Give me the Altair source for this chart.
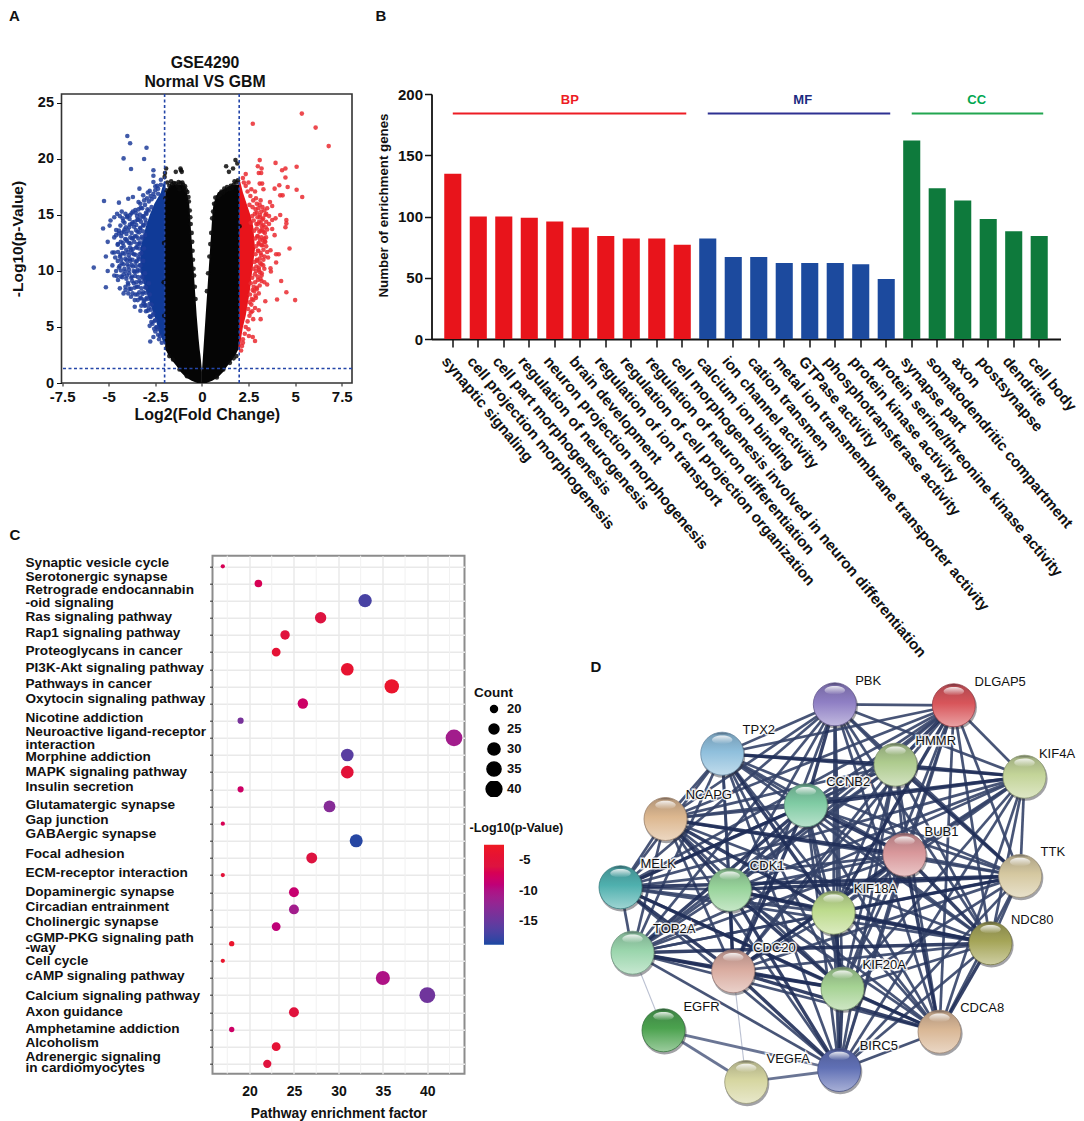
import itertools
import altair as alt
import pandas as pd

FONT = "Liberation Sans"

# ---------- Panel A: volcano ----------
blue_x = [-4.0,-3.85,-2.97,-4.2,-3.1,-3.8,-2.6,-2.6,-2.2,-2.6,-2.5,-2.35,-3.35,-2.8,-2.9,-3.15,-3.7,-3.95,-5.25,-4.45,-3.4,-3.3,-4.3,-4.1,-4.7,-4.9,-4.95,-5.3,-4.6,-5.05,-4.7,-4.8,-4.7,-5.15,-5.8,-5.05,-4.8,-5.15,-4.4,-4.2,-3.95,-4.1,-3.6,-3.3,-3.07,-2.8,-2.6,-2.77,-2.35,
 -4.55,-4.4,-4.25,-4.15,-4.0,-3.85,-3.7,-3.55,-3.4,-3.2,-3.05,-2.85,-2.7,-2.95,-3.1,-2.55,
 -4.6,-4.45,-4.3,-4.15,-4.05,-3.9,-3.75,-3.6,-3.45,-3.3,-3.15,-3.0,-2.85,
 -4.5,-4.35,-4.2,-4.05,-3.9,-3.75,-3.6,-3.45,-3.3,-3.15,-3.0,
 -4.65,-4.5,-4.4,-4.25,-4.1,-3.95,-3.8,-3.65,-3.5,-3.35,-3.2,-3.05,
 -4.6,-4.45,-4.3,-4.15,-4.0,-3.85,-3.7,-3.55,-3.4,-3.25,-3.1,
 -4.5,-4.7,-4.35,-4.2,-4.05,-3.9,-3.75,-3.6,-3.45,-3.3,-3.15,
 -4.1,-3.95,-3.8,-3.65,-3.5,-3.35,-3.2,-3.05,
 -3.8,-3.6,-3.45,-3.3,-3.15,-3.0,-2.85,
 -3.25,-3.1,-2.95,-2.8,-3.0,-2.85,-2.7,-2.75,-2.6,-2.5,-2.65,-2.45,-2.35,-2.5,-2.3,-2.15,-2.25,
 -2.5,-2.35,-2.6,-2.2,-2.4,-2.75,
 -2.7,-2.92,-3.28,-3.57, -2.97,-3.12,-3.33,-3.48,-3.77,-4.02, -3.03,-3.27,-3.44,-3.72,-3.88,-4.22,
 -3.12,-3.31,-3.52,-3.64,-3.86,-4.08,-4.37, -3.16,-3.36,-3.54,-3.77,-3.96,-4.19,-4.46, -3.22,-3.41,-3.51,-3.69,-3.84,-4.12,-4.33,
 -3.32,-3.46,-3.63,-3.82,-4.01,-4.24,-4.52, -3.36,-3.52,-3.71,-3.86,-4.06,-4.31, -3.34,-3.56,-3.74,-3.92,-4.14,-4.36,
 -3.37,-3.49,-3.72,-3.88,-4.04,-4.32,-4.51, -3.33,-3.54,-3.76,-3.93,-4.21,-4.41, -3.31,-3.48,-3.66,-3.91,-4.11,-4.34,
 -3.21,-3.42,-3.58,-3.79,-4.02,-4.26,-4.56, -3.11,-3.29,-3.52,-3.74,-3.97, -3.04,-3.24,-3.42,-3.61,-3.89, -3.01,-3.19,-3.36,-3.57,-3.72,
 -2.92,-3.08,-3.26,-3.44, -2.81,-3.02,-3.14, -2.74,-2.91, -2.62,-2.79, -2.53,-2.71, -2.41,-2.56]
blue_y = [22.05,21.4,21.0,20.05,20.0,19.1,19.0,18.5,18.15,17.95,17.55,17.35,17.35,17.15,17.0,16.75,16.6,16.45,16.25,16.1,16.15,16.0,15.3,15.1,14.8,14.5,14.05,13.8,13.65,12.6,13.0,11.65,11.65,11.3,10.3,10.0,10.5,8.55,8.45,8.0,8.0,8.3,6.8,6.45,6.9,5.1,4.1,3.7,4.3,
 15.1,14.9,14.7,14.3,14.9,15.0,15.3,15.2,15.5,15.6,15.9,16.2,16.4,16.5,16.3,16.6,
 13.2,13.6,13.4,13.7,13.3,13.9,14.2,14.4,14.6,14.7,14.9,15.2,15.4,
 12.4,12.6,12.2,12.8,12.5,12.9,13.1,13.5,13.8,14.1,14.3,
 11.2,11.7,11.3,11.6,11.1,11.7,11.9,11.5,12.1,12.4,12.9,13.2,
 10.0,10.3,10.7,10.2,10.6,10.9,10.4,10.8,11.2,11.6,12.0,
 9.2,9.6,9.5,9.7,9.3,9.8,9.5,9.9,10.1,10.5,10.9,
 8.6,8.8,8.4,8.9,8.6,9.1,9.4,9.8,
 7.7,7.4,7.9,7.6,8.1,8.5,8.9,
 6.9,7.3,7.6,7.9,6.4,6.7,7.0,5.9,6.2,5.6,5.3,5.0,4.8,4.6,3.9,3.6,4.2,
 17.2,16.9,16.9,17.7,17.6,16.7,
 15.7,15.5,15.65,15.45, 15.1,14.85,15.05,14.9,15.15,14.8, 14.6,14.4,14.55,14.35,14.65,14.45,
 14.05,13.85,14.1,13.95,14.15,13.9,14.05, 13.55,13.45,13.65,13.4,13.6,13.5,13.35, 13.05,12.9,13.1,12.95,13.0,12.85,13.1,
 12.55,12.4,12.6,12.45,12.65,12.5,12.35, 12.0,12.1,11.95,12.1,11.9,12.05, 11.5,11.45,11.6,11.4,11.55,11.45,
 11.05,10.9,11.0,11.1,10.95,11.05,10.9, 10.5,10.45,10.55,10.4,10.6,10.45, 10.05,9.95,10.0,10.1,9.95,10.05,
 9.5,9.45,9.55,9.4,9.6,9.45,9.55, 9.05,8.95,9.0,9.1,8.95, 8.55,8.45,8.6,8.5,8.4, 8.05,7.95,8.1,7.9,8.0,
 7.5,7.45,7.55,7.4, 7.05,6.95,7.1, 6.55,6.45, 6.05,5.95, 5.55,5.45, 4.95,4.85]

red_x = [5.36,6.1,6.8,2.73,3.1,3.95,5.08,3.0,3.2,4.48,4.3,3.05,3.18,2.35,4.48,3.23,3.1,4.15,4.6,5.08,3.9,3.3,5.38,4.2,4.33,3.65,3.77,3.15,4.2,4.53,4.53,3.95,3.77,4.48,3.77,3.9,3.4,4.7,3.68,3.98,4.12,3.98,3.7,3.68,4.25,4.53,5.0,4.03,3.4,3.05,3.15,2.85,2.52,2.73,2.1,2.2,
 2.9,2.75,2.6,2.45,2.35,2.5,2.2,2.25,2.65,2.85,2.95,3.1,3.25,3.35,3.5,3.4,3.6,3.25,3.1,2.95,3.0,3.15,3.3,3.45,3.6,3.5,3.3,3.15,3.0,3.2,3.35,3.05,3.25,3.0,3.15,3.3,3.5,3.45,3.1,2.95,3.3,3.2,3.05,2.9,3.1,3.35,3.2,3.0,3.2,3.35,3.5,2.85,3.1,2.95,2.8,3.05,2.9,2.75,2.65,2.85,2.7,2.55,2.75,2.45,2.35,2.5,2.3,2.2,2.15,3.45,
 2.55,2.72,2.88,3.02,3.18, 2.7,2.84,2.98,3.12,3.28, 2.62,2.78,2.92,3.07,3.22,3.42, 2.8,2.94,3.08,3.24,3.38, 2.86,2.97,3.11,3.27,3.44,
 2.9,3.04,3.2,3.37, 2.88,3.03,3.19,3.36,3.55, 2.82,2.96,3.13,3.29, 2.76,2.92,3.06,3.21, 2.7,2.84,2.99,3.14, 2.62,2.78,2.93, 2.58,2.72,2.87,2.56,2.68,2.48,2.62]
red_y = [24.05,22.8,21.15,23.15,19.9,19.65,19.3,19.35,19.15,19.15,19.0,18.75,18.75,18.65,18.35,17.8,17.8,17.65,17.5,17.25,17.35,17.3,16.6,16.75,16.75,16.15,15.8,16.3,15.0,14.55,14.25,14.7,14.55,13.9,13.75,13.2,12.6,12.0,11.85,11.5,11.5,10.75,9.95,10.25,9.1,8.1,7.4,7.45,7.3,6.5,5.7,3.75,4.2,4.1,2.9,3.6,
 16.5,16.3,16.7,17.1,17.6,17.9,18.3,17.9,17.3,17.1,16.0,15.9,15.7,15.4,15.6,15.0,14.9,14.6,14.8,15.2,14.2,14.3,14.1,14.4,14.2,13.7,13.5,13.6,13.1,13.0,12.9,12.4,12.3,11.8,11.6,11.9,11.7,12.2,11.1,11.0,11.0,10.6,10.3,10.0,9.9,10.2,9.6,9.2,9.1,9.0,8.8,9.0,8.7,8.4,8.2,8.0,7.6,7.4,7.0,6.7,6.4,6.0,5.7,5.5,5.0,4.8,4.4,3.9,3.3,15.1,
 15.9,15.7,15.5,15.6,15.3, 14.9,15.1,14.8,15.0,14.7, 14.3,14.5,14.2,14.4,14.0,13.9, 13.6,13.8,13.5,13.7,13.4, 12.9,13.1,12.8,12.7,13.0,
 12.2,12.5,12.3,12.6, 11.5,11.8,11.4,11.3,11.2, 10.8,10.9,10.7,10.5, 10.2,10.4,10.1,9.8, 9.4,9.7,9.5,9.3, 8.9,8.6,8.5, 7.9,8.3,7.8,7.2,7.5,6.6,6.3]

black_x = [-1.15,-1.08,-1.12,-1.4,-1.98,-1.92,-2.0,-1.85,-1.75,-1.6,-1.5,-1.4,-1.3,-1.2,-1.15,-1.05,-1.0,-0.95,-0.85,-0.78,-0.72,-1.9,-1.95,-0.7,-0.65,-0.62,-0.6,-0.55,-0.52,-0.5,-0.48,-0.45,-0.42,-0.38,-0.34,-1.2,-1.55,-1.9,-1.75,-0.8,-2.02,-2.05,-2.03,
 1.3,1.8,1.67,1.45,1.9,1.93,1.85,1.7,1.6,1.45,1.3,1.15,1.0,0.85,0.72,0.65,0.6,0.55,0.5,0.45,0.4,0.33,0.27,1.15,1.85,1.7,1.5,0.8,2.02,
 1.75,1.55,1.35,1.2,1.05,0.95,-1.65,-1.25,-0.9]
black_y = [19.15,18.85,19.0,18.85,18.75,19.15,18.4,17.9,17.6,17.75,17.85,17.8,17.6,17.3,17.85,17.9,17.7,17.4,17.2,17.05,16.6,17.2,16.5,16.2,15.4,14.8,14.2,13.4,12.6,11.8,11,10.2,9.6,8.6,7.5,1.2,2.1,3.1,2.4,0.6,6.0,9.0,12.5,
 19.35,19.9,19.15,18.85,19.6,18.1,17.9,17.7,17.4,17.3,17.2,17.0,16.9,16.6,16.55,16.0,15.3,14.7,13.4,12.4,11.3,9.8,8.2,1.2,2.4,2.2,1.8,0.5,14.0,
 18.0,17.6,17.5,17.35,17.1,16.75,18.0,17.95,17.55]

core_y =        [0,0.2,0.5,1,1.5,2,2.5,3,4,6,8,10,12,14,15,16,17,17.7]
left_outer =    [-0.25,-0.55,-0.85,-1.15,-1.35,-1.6,-1.8,-1.95,-2,-2,-2,-2,-2,-2,-2,-2,-1.95,-1.7]
left_inner =    [0,0,0,0,-0.02,-0.05,-0.08,-0.12,-0.18,-0.28,-0.36,-0.44,-0.52,-0.6,-0.64,-0.68,-0.8,-1.0]
right_outer =   [0.25,0.55,0.85,1.15,1.35,1.6,1.8,1.95,2,2,2,2,2,2,2,2,2,2]
right_inner =   [0,0,0,0,0.02,0.04,0.06,0.08,0.12,0.2,0.28,0.36,0.44,0.52,0.56,0.62,0.85,1.6]

blue_band_y = [3.6,4.5,5.5,6.5,8,10,12,14,15,16,17,18]
blue_band_x = [-2.05,-2.3,-2.45,-2.65,-2.95,-3.3,-3.3,-3.0,-2.8,-2.55,-2.2,-2.03]
red_band_y =  [3,4,5,6,7,8,10,12,14,15,16,17,18]
red_band_x =  [2.05,2.1,2.2,2.35,2.45,2.55,2.7,2.85,2.75,2.6,2.4,2.2,2.05]

cut_x = [-2, 2]
cut_y = [1.3]
volcano_x_ticks = [-7.5,-5,-2.5,0,2.5,5,7.5]
volcano_y_ticks = [0,5,10,15,20,25]

# ---------- Panel B: bars ----------
go_terms = ["synaptic signaling","cell projection morphogenesis","cell part morphogenesis","regulation of neurogenesis",
 "neuron projection morphogenesis","brain development","regulation of ion transport","regulation of cell projection organization",
 "regulation of neuron differentiation","cell morphogenesis involved in neuron differentiation",
 "calcium ion binding","ion channel activity","cation transmen","metal ion transmembrane transporter activity",
 "GTPase activity","phosphotransferase activity","protein kinase activity","protein serine/threonine kinase activity",
 "synapse part","somatodendritic compartment","axon","postsynapse","dendrite","cell body"]
go_counts = [135,100,100,99,96,91,84,82,82,77, 82,67,67,62,62,62,61,49, 162,123,113,98,88,84]
go_class = ["BP"]*10 + ["MF"]*8 + ["CC"]*6
class_names = ["BP","MF","CC"]
class_bar_colors = ["#e8141b","#1c4a9e","#0e7a3c"]
class_line_colors = ["#ed1c24","#2e3192","#22a650"]
class_text_colors = ["#ed1c24","#1b2a80","#00a651"]
class_first = ["synaptic signaling","calcium ion binding","synapse part"]
class_last = ["cell morphogenesis involved in neuron differentiation","protein serine/threonine kinase activity","cell body"]
class_anchor = ["neuron projection morphogenesis","GTPase activity","axon"]
class_dx = [15,-7,14]

# ---------- Panel C: bubbles ----------
pathways = ["Synaptic vesicle cycle","Serotonergic synapse","Retrograde endocannabinoid signaling","Ras signaling pathway","Rap1 signaling pathway",
 "Proteoglycans in cancer","PI3K-Akt signaling pathway","Pathways in cancer","Oxytocin signaling pathway","Nicotine addiction",
 "Neuroactive ligand-receptor interaction","Morphine addiction","MAPK signaling pathway","Insulin secretion","Glutamatergic synapse",
 "Gap junction","GABAergic synapse","Focal adhesion","ECM-receptor interaction","Dopaminergic synapse","Circadian entrainment",
 "Cholinergic synapse","cGMP-PKG signaling pathway","Cell cycle","cAMP signaling pathway","Calcium signaling pathway","Axon guidance",
 "Amphetamine addiction","Alcoholism","Adrenergic signaling in cardiomyocytes"]
factor = [17,21,33,28,24,23,31,36,26,19,43,31,31,19,29,17,32,27,17,25,25,23,18,17,35,40,25,18,23,22]
logp = [-7,-7,-17,-6,-5.5,-4.5,-4,-3.5,-8,-14,-11,-16,-5,-8,-13,-7,-18.5,-6,-5,-8.5,-11,-9,-3.5,-3.5,-10,-14.5,-5.5,-8,-4.5,-5.5]
label_lines = ["Synaptic vesicle cycle","Serotonergic synapse","Retrograde endocannabin","-oid signaling","Ras signaling pathway",
 "Rap1 signaling pathway","Proteoglycans in cancer","PI3K-Akt signaling pathway","Pathways in cancer","Oxytocin signaling pathway",
 "Nicotine addiction","Neuroactive ligand-receptor","interaction","Morphine addiction","MAPK signaling pathway","Insulin secretion",
 "Glutamatergic synapse","Gap junction","GABAergic synapse","Focal adhesion","ECM-receptor interaction","Dopaminergic synapse",
 "Circadian entrainment","Cholinergic synapse","cGMP-PKG signaling path","-way","Cell cycle","cAMP signaling pathway",
 "Calcium signaling pathway","Axon guidance","Amphetamine addiction","Alcoholism","Adrenergic signaling","in cardiomyocytes"]
label_rows = [-0.18,0.62,1.37,2.14,2.93,3.86,4.96,5.95,6.88,7.76,8.86,9.67,10.42,11.13,12.01,12.85,13.93,14.79,15.6,16.75,17.89,19.0,19.88,20.74,21.66,22.26,23.03,23.91,25.05,25.96,26.95,27.81,28.58,29.22]
factor_ticks = [20,25,30,35,40]
factor_minor = [17.5,22.5,27.5,32.5,37.5,42.5]
count_legend = [20,25,30,35,40]
logp_legend = [-5,-10,-15]

# ---------- Panel D: network ----------
gene = ["PBK","DLGAP5","TPX2","HMMR","KIF4A","CCNB2","NCAPG","BUB1","MELK","CDK1","TTK","KIF18A","TOP2A","NDC80","CDC20","KIF20A","EGFR","CDCA8","BIRC5","VEGFA"]
gene_x = [264.3,383.3,151.7,325,454,235.3,95,334,50,159.3,449.7,263,62,420,162.7,272,93,369,268.7,175.7]
gene_y = [54.3,55.3,103.7,114.7,126.7,155.3,169,204.7,237.3,239.7,226,262.7,302.7,293.3,321.3,338.7,380.3,381.7,420,432]
gene_color = ["#8f7fc4","#d8555a","#8fbfdc","#aecb8e","#c3d498","#7fcba3","#dcb78f","#d8979a","#4fb0ae","#97d39a","#d5c8a0","#bddb8d","#9ad5ac","#a5a558","#d9ab9f","#a5d293","#4ba24e","#d9b795","#6070b5","#d6d6a0"]
gene_label_x = [297.7,429.7,188.3,365.3,486.5,277.7,138.3,371,87.7,196.7,482.3,305,103.7,461.7,204,313.7,131,411.7,308.3,217.7]
gene_label_y = [31,32,80.3,91,103.7,132,145.3,181.7,214,216.3,202.3,239.3,279,269.7,298,315,357,358,396,408.7]
core_genes = ["PBK","DLGAP5","TPX2","HMMR","KIF4A","CCNB2","NCAPG","BUB1","MELK","CDK1","TTK","KIF18A","TOP2A","NDC80","CDC20","KIF20A","CDCA8","BIRC5"]
strong_edges = [("TPX2","HMMR"),("CDK1","CDC20"),("CDK1","NCAPG"),("CDK1","KIF20A"),("BUB1","NDC80"),("KIF18A","NDC80"),("KIF18A","KIF20A"),
 ("KIF20A","BIRC5"),("CDC20","BIRC5"),("HMMR","TTK"),("TTK","KIF18A"),("CDK1","BIRC5"),("CCNB2","CDC20"),("CCNB2","BUB1"),("MELK","CDC20"),
 ("MELK","KIF20A"),("TOP2A","CDC20"),("TOP2A","KIF20A"),("KIF20A","CDCA8"),("NDC80","CDK1"),("CCNB2","KIF4A"),("HMMR","KIF4A"),("NCAPG","BUB1"),
 ("TPX2","KIF18A"),("DLGAP5","HMMR"),("PBK","CCNB2"),("CDK1","KIF18A"),("CDK1","TTK"),("TOP2A","NDC80"),("CCNB2","MELK"),("NCAPG","KIF18A"),
 ("CCNB2","TOP2A"),("BUB1","CDC20"),("BUB1","CDCA8"),("NDC80","CDCA8"),("CDC20","KIF20A"),("CDC20","CDCA8"),("MELK","TTK"),("DLGAP5","KIF18A")]
outer_edges = [("EGFR","BIRC5"),("EGFR","VEGFA"),("VEGFA","BIRC5")]
faint_edges = [("TOP2A","EGFR"),("CDC20","VEGFA")]

# ---------- frames ----------
volcano_pts = pd.concat([
    pd.DataFrame({"x":blue_x,"y":blue_y,"g":"blue"}),
    pd.DataFrame({"x":red_x,"y":red_y,"g":"red"}),
])
black_pts = pd.DataFrame({"x":black_x,"y":black_y})
left_core = pd.DataFrame({"y":core_y,"a":left_outer,"b":left_inner})
right_core = pd.DataFrame({"y":core_y,"a":right_outer,"b":right_inner})
blue_band = pd.DataFrame({"y":blue_band_y,"a":blue_band_x,"b":[-1.95]*len(blue_band_x)})
red_band = pd.DataFrame({"y":red_band_y,"a":red_band_x,"b":[1.95]*len(red_band_x)})

VX = alt.Scale(domain=[-7.53,8.05], nice=False, zero=False)
VY = alt.Scale(domain=[0,25.8], nice=False, zero=False)
DARK = "#111111"

def band(df, color):
    return alt.Chart(df).mark_area(orient="horizontal", color=color).encode(
        y=alt.Y("y:Q", scale=VY, axis=None), x=alt.X("a:Q", scale=VX, axis=None), x2="b:Q")

def note(t, x, y, size=15, **kw):
    return alt.Chart(pd.DataFrame({"t":[t]})).mark_text(baseline="middle", font=FONT, fontWeight="bold", fontSize=size, color=DARK, **kw).encode(
        text="t:N", x=alt.value(x), y=alt.value(y))

def letter(t, x, y):
    return note(t, x, y, align="left")

v_axes = alt.Chart(pd.DataFrame({"x":[0],"y":[0]})).mark_point(opacity=0).encode(
    x=alt.X("x:Q", scale=VX, title="Log2(Fold Change)", axis=alt.Axis(values=volcano_x_ticks, labelExpr="''+datum.value", grid=False,
        labelFont=FONT, labelFontWeight="bold", labelFontSize=15, labelColor=DARK, titleFont=FONT, titleFontWeight="bold", titleFontSize=16, titleColor=DARK,
        tickColor=DARK, tickSize=3, domain=False, titlePadding=2, labelPadding=3, labelOverlap=False, labelBound=False, labelFlush=False)),
    y=alt.Y("y:Q", scale=VY, title="-Log10(p-Value)", axis=alt.Axis(values=volcano_y_ticks, grid=False,
        labelFont=FONT, labelFontWeight="bold", labelFontSize=14.5, labelColor=DARK, titleFont=FONT, titleFontWeight="bold", titleFontSize=15.5, titleColor=DARK,
        tickColor=DARK, tickSize=5, domain=False, titlePadding=12, labelPadding=3)))
v_points = alt.Chart(volcano_pts).mark_circle(size=21, opacity=0.85).encode(
    x=alt.X("x:Q", scale=VX, axis=None), y=alt.Y("y:Q", scale=VY, axis=None),
    color=alt.Color("g:N", scale=alt.Scale(domain=["blue","red"], range=["#1f3d9a","#ea2a30"]), legend=None))
v_black = alt.Chart(black_pts).mark_circle(size=21, opacity=0.85, color="#0a0a0a").encode(
    x=alt.X("x:Q", scale=VX, axis=None), y=alt.Y("y:Q", scale=VY, axis=None))
v_vlines = alt.Chart(pd.DataFrame({"x":cut_x})).mark_rule(color="#2446a8", strokeDash=[3,2.5], strokeWidth=1.6).encode(x=alt.X("x:Q", scale=VX, axis=None))
v_hline = alt.Chart(pd.DataFrame({"y":cut_y})).mark_rule(color="#2446a8", strokeDash=[3,2.5], strokeWidth=1.6).encode(y=alt.Y("y:Q", scale=VY, axis=None))
letter_a = letter("A", -52.5, -78)
title_rows = alt.layer(note("GSE4290", 143.5, -31, 15.8), note("Normal VS GBM", 143.5, -12, 15.8))

panel_a = alt.layer(v_axes, band(blue_band,"#103a97"), band(red_band,"#e8141b"), v_points,
                    band(left_core,"#050505"), band(right_core,"#050505"), v_black, v_vlines, v_hline, letter_a, title_rows).resolve_axis(x="independent", y="independent").properties(
    width=290.5, height=289,
    view=alt.ViewBackground(stroke="#333333", strokeWidth=1.6))

# Panel B
go_df = pd.DataFrame({"term":go_terms,"n":go_counts,"cls":go_class})
GX = alt.Scale(domain=go_terms, paddingInner=0.33, paddingOuter=0.5, round=False)
GY = alt.Scale(domain=[0,200], nice=False)
b_bars = alt.Chart(go_df).mark_bar().encode(
    x=alt.X("term:N", scale=GX, sort=None, title=None, axis=alt.Axis(labelAngle=50, labelAlign="left", labelBaseline="middle", labelFont=FONT, labelFontWeight="bold",
        labelFontSize=15.2, labelColor=DARK, labelPadding=11, labelOverlap=False, labelLimit=0, tickColor=DARK, tickSize=8, tickWidth=1.5, domainColor=DARK, domainWidth=1.8, labelOffset=-8)),
    y=alt.Y("n:Q", scale=GY, title="Number of enrichment genes", axis=alt.Axis(values=[0,50,100,150,200], grid=False, labelFont=FONT, labelFontWeight="bold", labelFontSize=15,
        labelColor=DARK, titleFont=FONT, titleFontWeight="bold", titleFontSize=13.3, titleColor=DARK, tickColor=DARK, tickSize=7, tickWidth=1.5, domainColor=DARK, domainWidth=1.8, titlePadding=7, labelPadding=2, titleY=111)),
    color=alt.Color("cls:N", scale=alt.Scale(domain=class_names, range=class_bar_colors), legend=None))
cls_df = pd.DataFrame({"name":class_names,"first":class_first,"last":class_last,"anchor":class_anchor,"dx":class_dx,"level":[184]*3,"tlevel":[195]*3})
b_lines = alt.Chart(cls_df).mark_rule(strokeWidth=2, x2Offset=4).encode(
    x=alt.X("first:N", scale=GX, sort=None, axis=None), x2="last:N", y=alt.Y("level:Q", scale=GY, axis=None),
    color=alt.Color("name:N", scale=alt.Scale(domain=class_names, range=class_line_colors), legend=None))
b_text = [alt.Chart(cls_df[cls_df.name==n]).mark_text(font=FONT, fontWeight="bold", fontSize=13, color=c, dx=d, baseline="middle").encode(
    x=alt.X("anchor:N", scale=GX, sort=None, axis=None), y=alt.Y("tlevel:Q", scale=GY, axis=None), text="name:N")
    for n,c,d in zip(class_names,class_text_colors,class_dx)]
letter_b = letter("B", -56, -78)
panel_b = alt.layer(b_bars, b_lines, *b_text, letter_b).resolve_scale(color="independent").resolve_axis(x="independent", y="independent").properties(
    width=629, height=245, view=alt.ViewBackground(stroke="transparent"))

# Panel C
bub = pd.DataFrame({"path":pathways,"factor":factor,"logp":logp,"row":list(range(30)),"count":factor})
CX = alt.Scale(domain=[15.84,44.18], nice=False, zero=False)
CY = alt.Scale(domain=[29.577,-0.618], nice=False, zero=False)
c_minor = alt.Chart(pd.DataFrame({"x":factor_minor})).mark_rule(color="#f1f1f1", strokeWidth=1).encode(x=alt.X("x:Q", scale=CX, axis=None))
c_dots = alt.Chart(bub).mark_circle(opacity=1).encode(
    x=alt.X("factor:Q", scale=CX, title="Pathway enrichment factor", axis=alt.Axis(values=factor_ticks, grid=True, gridColor="#e9e9e9", gridWidth=1.4, labelFont=FONT, labelFontWeight="bold",
        labelFontSize=14, labelColor=DARK, titleFont=FONT, titleFontWeight="bold", titleFontSize=13.8, titleColor=DARK, ticks=False, domain=False, titlePadding=8, labelPadding=11)),
    y=alt.Y("row:Q", scale=CY, title=None, axis=alt.Axis(values=list(range(30)), grid=True, gridColor="#e9e9e9", gridWidth=1.4, labels=False, tickColor="#333", tickSize=3, domain=False)),
    size=alt.Size("count:Q", scale=alt.Scale(domain=[17,43], range=[18,280], zero=False), legend=alt.Legend(
        values=count_legend, title=None, orient="none", legendX=423.5, legendY=145.3,
        labelFont=FONT, labelFontWeight="bold", labelFontSize=13, labelColor=DARK, symbolFillColor="black", symbolStrokeColor="black", symbolOpacity=1, symbolType="circle", rowPadding=4, clipHeight=16)),
    color=alt.Color("logp:Q", scale=alt.Scale(domain=[-18.9,-14,-10,-6,-2.4], range=["#1a48a2","#77329a","#ae1285","#dd1340","#ee1a22"]), legend=alt.Legend(
        title=None, orient="none", legendX=422.5, legendY=289, values=logp_legend, labelExpr="''+datum.value", gradientLength=100, gradientThickness=20,
        labelFont=FONT, labelFontWeight="bold", labelFontSize=13, labelColor=DARK, labelAlign="right", labelOffset=15, tickCount=3)))
c_labels = alt.Chart(pd.DataFrame({"t":label_lines,"r":label_rows})).mark_text(align="left", baseline="middle", font=FONT, fontWeight="bold", fontSize=13.6, color=DARK).encode(
    text="t:N", x=alt.value(-187), y=alt.Y("r:Q", scale=CY, axis=None))
letter_c = letter("C", -203, -21)
count_title = note("Count", 261.5, 137, 13.5, align="left")
logp_title = note("-Log10(p-Value)", 257, 272, 12.5, align="left")
panel_c = alt.layer(c_minor, c_dots, c_labels, letter_c, count_title, logp_title).resolve_axis(x="independent", y="independent").properties(
    width=252, height=518, view=alt.ViewBackground(stroke="#8c8c8c", strokeWidth=2))

# Panel D
pos = dict(zip(gene, zip(gene_x, gene_y)))
strong_set = {frozenset(e) for e in strong_edges}
rows = []
for a, b in itertools.combinations(core_genes, 2):
    strong = frozenset((a, b)) in strong_set
    rows.append((a, b, 3.4 if strong else 2.7, "#1f2e58" if strong else "#344268"))
for a, b in outer_edges:
    rows.append((a, b, 2.8, "#5a6688"))
for a, b in faint_edges:
    rows.append((a, b, 1.1, "#b3b9cc"))
edge_df = pd.DataFrame([{"x":pos[a][0],"y":pos[a][1],"x2":pos[b][0],"y2":pos[b][1],"w":w,"c":c} for a,b,w,c in rows])
edge_df = edge_df.sort_values("w")
DX = alt.Scale(domain=[0,514], nice=False, zero=False)
DY = alt.Scale(domain=[471,-94.3], nice=False, zero=False)
d_edges = alt.Chart(edge_df).mark_rule(opacity=0.9).encode(
    x=alt.X("x:Q", scale=DX, axis=None), x2="x2:Q", y=alt.Y("y:Q", scale=DY, axis=None), y2="y2:Q",
    size=alt.Size("w:Q", scale=None, legend=None), color=alt.Color("c:N", scale=None, legend=None))

def mix(hex_color, target, t):
    a = [int(hex_color[i:i+2], 16) for i in (1, 3, 5)]
    b = [int(target[i:i+2], 16) for i in (1, 3, 5)]
    return "#%02x%02x%02x" % tuple(round(p + (q - p) * t) for p, q in zip(a, b))

node_df = pd.DataFrame({"g":gene,"x":gene_x,"y":gene_y,"lx":gene_label_x,"ly":gene_label_y})
def xy():
    return dict(x=alt.X("x:Q", scale=DX, axis=None), y=alt.Y("y:Q", scale=DY, axis=None))
d_shadow = alt.Chart(node_df).mark_circle(size=1960, color="#30303a", opacity=0.45, yOffset=2, xOffset=1).encode(**xy())
d_nodes = []
for g, c in zip(gene, gene_color):
    fill = {"gradient":"linear","x1":0,"x2":0,"y1":0,"y2":1,"stops":[
        {"offset":0,"color":mix(c,"#101020",0.55)},{"offset":0.07,"color":mix(c,"#101020",0.18)},
        {"offset":0.45,"color":c},{"offset":1,"color":mix(c,"#ffffff",0.45)}]}
    d_nodes.append(alt.Chart(node_df[node_df.g==g]).mark_circle(size=1849, fill=fill, opacity=1, stroke=mix(c,"#101020",0.3), strokeWidth=0.8).encode(**xy()))
gloss = {"gradient":"linear","x1":0,"x2":0,"y1":0,"y2":1,"stops":[{"offset":0,"color":"#ffffff"},{"offset":1,"color":"#ffffff00"}]}
d_gloss = alt.Chart(node_df).mark_point(shape="M-1,0A1,0.42 0 1,1 1,0A1,0.42 0 1,1 -1,0Z", size=420, filled=True, fill=gloss, opacity=0.85, strokeWidth=0, yOffset=-14).encode(**xy())
lab_enc = dict(x=alt.X("lx:Q", scale=DX, axis=None), y=alt.Y("ly:Q", scale=DY, axis=None), text="g:N")
d_halo = alt.Chart(node_df).mark_text(font=FONT, fontSize=13, stroke="#ffffff", strokeWidth=3, opacity=0.85, baseline="middle").encode(**lab_enc)
d_text = alt.Chart(node_df).mark_text(font=FONT, fontSize=13, color="#111", baseline="middle").encode(**lab_enc)
letter_d = letter("D", 20, 111)
panel_d = alt.layer(d_edges, d_shadow, *d_nodes, d_gloss, d_halo, d_text, letter_d).properties(
    width=514, height=565.3, view=alt.ViewBackground(stroke="transparent"))

spacer = alt.Chart(pd.DataFrame({"t":[""]})).mark_text().encode(text="t:N").properties(width=44.5, height=10, view=alt.ViewBackground(stroke="transparent"))

row1 = alt.hconcat(panel_a, panel_b, spacing=79, bounds="flush")
row2 = alt.hconcat(spacer, panel_c, panel_d, spacing=106, bounds="flush")
chart = alt.vconcat(row1, row2, spacing=461.7, bounds="flush").properties(
    autosize=alt.AutoSizeParams(type="none"),
    padding={"left":53.5,"top":86,"right":1014.5,"bottom":1027},
).resolve_scale(color="independent", size="independent", x="independent", y="independent")

chart.save("out.html", embed_options={"renderer": "svg", "actions": False})
